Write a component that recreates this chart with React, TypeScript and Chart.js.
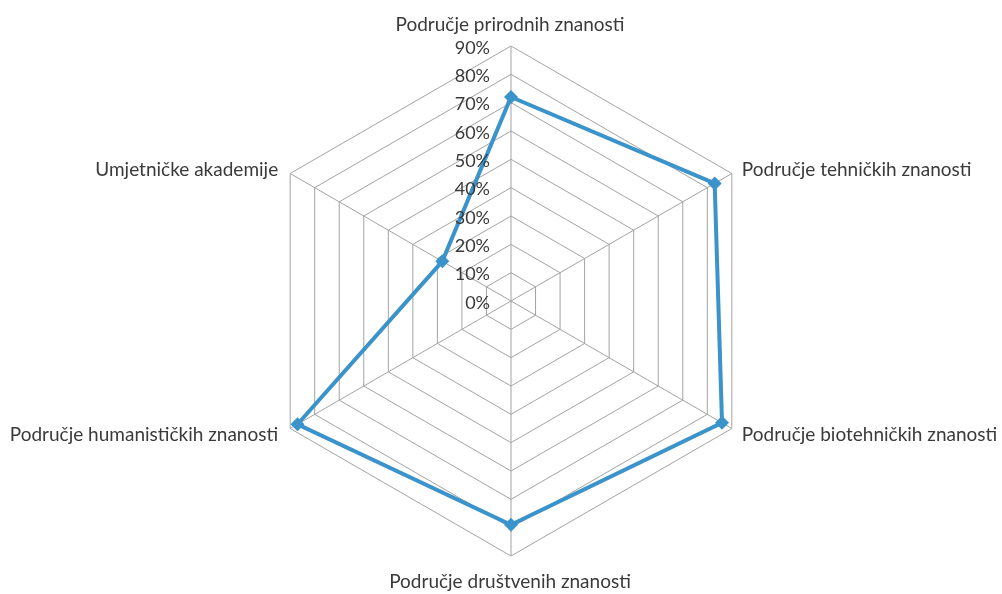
import React, { useEffect, useRef } from "react";
import { Chart, registerables } from "chart.js";

Chart.register(...registerables);

const categories = [
  "Područje prirodnih znanosti",
  "Područje tehničkih znanosti",
  "Područje biotehničkih znanosti",
  "Područje društvenih znanosti",
  "Područje humanističkih znanosti",
  "Umjetničke akademije",
];
const seriesValues = [72, 83, 86, 79, 87, 28];
const axisMin = 0;
const axisMax = 90;
const axisStep = 10;

const BLUE = "#3b93cb";
const GRID = "#a3a3a3";
const TEXT = "#3a3a3a";
const FONT = "Lato";
const LABEL_SIZE = 19;
const TICK_SIZE = 18;

const labelPlugin = {
  id: "customLabels",
  afterDraw(chart: any) {
    const scale = chart.scales.r;
    const ctx = chart.ctx as CanvasRenderingContext2D;
    ctx.save();
    ctx.fillStyle = TEXT;
    ctx.font = `${TICK_SIZE}px ${FONT}`;
    ctx.textAlign = "right";
    ctx.textBaseline = "middle";
    scale.ticks.forEach((t: any) => {
      const d = scale.getDistanceFromCenterForValue(t.value);
      ctx.fillText(t.label, scale.xCenter - 21, scale.yCenter - d + 2);
    });
    ctx.font = `${LABEL_SIZE}px ${FONT}`;
    ctx.textBaseline = "alphabetic";
    const outer = scale.getDistanceFromCenterForValue(scale.max);
    (chart.data.labels as string[]).forEach((label, i) => {
      const p = scale.getPointPosition(i, outer);
      const a = scale.getIndexAngle(i);
      const sx = Math.sin(a);
      const cy = -Math.cos(a);
      if (Math.abs(sx) < 0.01) {
        ctx.textAlign = "center";
        ctx.fillText(label, p.x - 1, cy < 0 ? p.y - 15 : p.y + 32);
      } else {
        ctx.textAlign = sx > 0 ? "left" : "right";
        ctx.fillText(label, p.x + (sx > 0 ? 10 : -12), cy < 0 ? p.y + 2.5 : p.y + 12.5);
      }
    });
    ctx.restore();
  },
};

export default function App() {
  const canvasRef = useRef<HTMLCanvasElement | null>(null);

  useEffect(() => {
    if (!canvasRef.current) return;
    const chart = new Chart(canvasRef.current, {
      type: "radar",
      data: {
        labels: categories,
        datasets: [
          {
            data: seriesValues,
            borderColor: BLUE,
            backgroundColor: BLUE,
            borderWidth: 4,
            fill: false,
            pointStyle: "rectRot",
            pointRadius: 7,
            pointBackgroundColor: BLUE,
            pointBorderColor: BLUE,
            pointBorderWidth: 0,
            borderJoinStyle: "miter",
          } as any,
        ],
      },
      options: {
        animation: false,
        responsive: false,
        maintainAspectRatio: false,
        layout: { padding: { left: 256, right: 236, top: 46, bottom: 38 } },
        plugins: { legend: { display: false }, tooltip: { enabled: false } },
        scales: {
          r: {
            min: axisMin,
            max: axisMax,
            ticks: {
              stepSize: axisStep,
              display: false,
              callback: (v: any) => `${v}%`,
            },
            grid: { color: GRID, lineWidth: 1 },
            angleLines: { color: GRID, lineWidth: 1 },
            pointLabels: { display: false },
          },
        },
      },
      plugins: [labelPlugin],
    });
    return () => chart.destroy();
  }, []);

  return (
    <div style={{ position: "absolute", left: 0, top: 0, width: 1002, height: 594, background: "#fff" }}>
      <canvas ref={canvasRef} width={1002} height={594} style={{ display: "block" }} />
    </div>
  );
}
